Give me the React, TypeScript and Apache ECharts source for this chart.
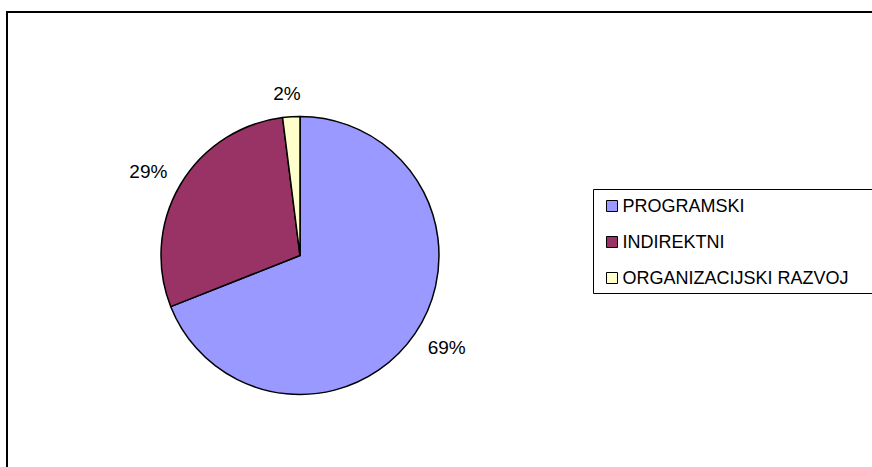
import React, { useEffect, useRef } from "react";
import * as echarts from "echarts";

const categories = ["PROGRAMSKI", "INDIREKTNI", "ORGANIZACIJSKI RAZVOJ"];
const values = [69, 29, 2];
const colors = ["#9999FF", "#993366", "#FFFFCC"];
const labelOffsets = [[2, -6], [-1, 5], [-2, 13]];

export default function App() {
  const ref = useRef<HTMLDivElement>(null);
  useEffect(() => {
    if (!ref.current) return;
    const chart = echarts.init(ref.current, null, { renderer: "svg" });
    const font = "'Liberation Sans', Arial, sans-serif";
    const total = values.reduce((a, b) => a + b, 0);
    chart.setOption({
      animation: false,
      backgroundColor: "#ffffff",
      legend: {
        orient: "vertical",
        left: 601,
        top: 191,
        itemWidth: 11,
        itemHeight: 11,
        itemGap: 16,
        icon: "rect",
        data: categories,
        itemStyle: { borderColor: "#000", borderWidth: 1 },
        textStyle: {
          fontFamily: font,
          fontSize: 18,
          color: "#000",
          lineHeight: 20,
          padding: [0, 0, 0, 0],
        },
        selectedMode: false,
      },
      graphic: [
        {
          type: "polyline",
          shape: { points: [[7, 467], [7, 12], [872, 12]] },
          style: { fill: "none", stroke: "#000", lineWidth: 2 },
          silent: true,
        },
        {
          type: "polyline",
          shape: { points: [[872, 189.5], [593.5, 189.5], [593.5, 293.5], [872, 293.5]] },
          style: { fill: "none", stroke: "#000", lineWidth: 1 },
          silent: true,
        },
      ],
      series: [
        {
          type: "pie",
          center: [300, 255.5],
          radius: [0, 139],
          startAngle: 90,
          clockwise: true,
          silent: true,
          label: { show: false },
          labelLine: { show: false },
          itemStyle: { borderColor: "#000", borderWidth: 1.5 },
          data: categories.map((c, i) => ({
            name: c,
            value: values[i],
            itemStyle: { color: colors[i] },
          })),
        },
        {
          type: "pie",
          center: [300, 255.5],
          radius: [150, 194],
          startAngle: 90,
          clockwise: true,
          silent: true,
          legendHoverLink: false,
          itemStyle: { color: "rgba(0,0,0,0)", borderWidth: 0 },
          labelLine: { show: false },
          label: {
            show: true,
            position: "inside",
            fontFamily: font,
            fontSize: 19,
            color: "#000",
            formatter: (p: any) => Math.round((p.value / total) * 100) + "%",
          },
          data: categories.map((c, i) => ({
            name: c + " ",
            value: values[i],
            label: { offset: labelOffsets[i] },
          })),
        },
      ],
    });
    return () => chart.dispose();
  }, []);
  return (
    <div
      ref={ref}
      style={{ position: "absolute", left: 0, top: 0, width: 872, height: 467 }}
    />
  );
}
